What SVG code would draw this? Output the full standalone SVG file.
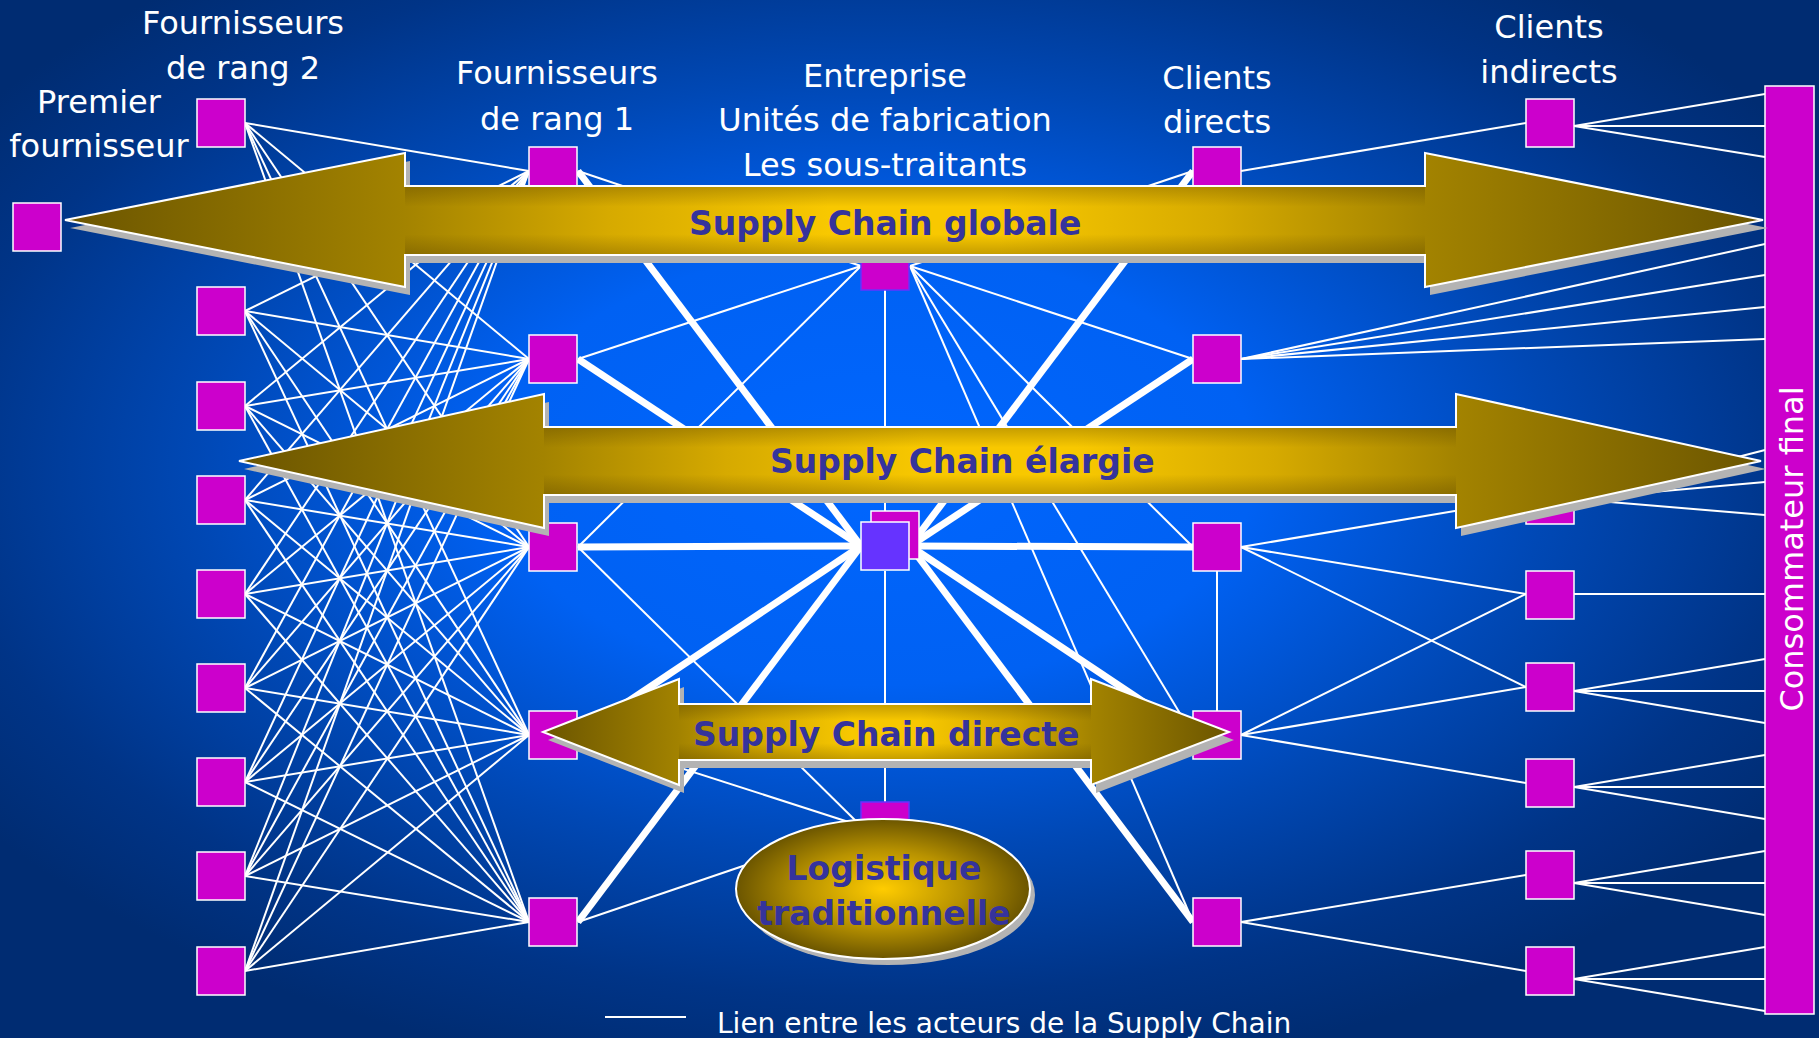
<svg xmlns="http://www.w3.org/2000/svg" width="1819" height="1038" viewBox="0 0 1819 1038">
<defs>
<radialGradient id="bg" cx="0.48" cy="0.45" r="0.6">
<stop offset="0" stop-color="#0066ff"/>
<stop offset="0.35" stop-color="#0061f3"/>
<stop offset="0.62" stop-color="#0048b5"/>
<stop offset="0.85" stop-color="#003487"/>
<stop offset="1" stop-color="#002c72"/>
</radialGradient>
<linearGradient id="goldH" x1="0" y1="0" x2="1" y2="0">
<stop offset="0" stop-color="#6b5500"/>
<stop offset="0.2" stop-color="#a38300"/>
<stop offset="0.32" stop-color="#d6aa00"/>
<stop offset="0.45" stop-color="#f8c800"/>
<stop offset="0.55" stop-color="#f8c800"/>
<stop offset="0.68" stop-color="#d6aa00"/>
<stop offset="0.8" stop-color="#a38300"/>
<stop offset="1" stop-color="#6b5500"/>
</linearGradient>
<linearGradient id="goldV" x1="0" y1="0" x2="0" y2="1">
<stop offset="0" stop-color="#4a3500" stop-opacity="0.3"/>
<stop offset="0.3" stop-color="#4a3500" stop-opacity="0"/>
<stop offset="0.7" stop-color="#4a3500" stop-opacity="0"/>
<stop offset="1" stop-color="#4a3500" stop-opacity="0.3"/>
</linearGradient>
<radialGradient id="goldR" cx="0.5" cy="0.5" r="0.5">
<stop offset="0" stop-color="#ffcc00"/>
<stop offset="0.55" stop-color="#b89200"/>
<stop offset="1" stop-color="#6b5500"/>
</radialGradient>
<style>
.thin{stroke:#fff;stroke-width:2;fill:none}
.thick{stroke:#fff;stroke-width:7;fill:none}
.box{fill:#cc00cc;stroke:#fff;stroke-width:1.5}
.boxb{fill:#cc00cc;stroke:#6633ff;stroke-width:1.5}
.lbl{font-family:"DejaVu Sans",Verdana,sans-serif;font-size:32px;fill:#fff;text-anchor:middle}
.bold{font-family:"DejaVu Sans",Verdana,sans-serif;font-weight:bold;font-size:33px;fill:#35339c}
.arrow{fill:url(#goldH)}
.shade{fill:url(#goldV)}
.edge{fill:none;stroke:#fff;stroke-width:2}
.shadow{fill:#b3b3b3}
</style>
</defs>
<rect width="1819" height="1038" fill="url(#bg)"/>

<g id="connectors">
<g id="rang2-rang1">
<line class="thin" x1="245" y1="123" x2="529" y2="171"/><line class="thin" x1="245" y1="123" x2="529" y2="359"/><line class="thin" x1="245" y1="123" x2="529" y2="547"/><line class="thin" x1="245" y1="123" x2="529" y2="735"/><line class="thin" x1="245" y1="123" x2="529" y2="922"/>
<line class="thin" x1="245" y1="311" x2="529" y2="171"/><line class="thin" x1="245" y1="311" x2="529" y2="359"/><line class="thin" x1="245" y1="311" x2="529" y2="547"/><line class="thin" x1="245" y1="311" x2="529" y2="735"/><line class="thin" x1="245" y1="311" x2="529" y2="922"/>
<line class="thin" x1="245" y1="406" x2="529" y2="171"/><line class="thin" x1="245" y1="406" x2="529" y2="359"/><line class="thin" x1="245" y1="406" x2="529" y2="547"/><line class="thin" x1="245" y1="406" x2="529" y2="735"/><line class="thin" x1="245" y1="406" x2="529" y2="922"/>
<line class="thin" x1="245" y1="500" x2="529" y2="171"/><line class="thin" x1="245" y1="500" x2="529" y2="359"/><line class="thin" x1="245" y1="500" x2="529" y2="547"/><line class="thin" x1="245" y1="500" x2="529" y2="735"/><line class="thin" x1="245" y1="500" x2="529" y2="922"/>
<line class="thin" x1="245" y1="594" x2="529" y2="171"/><line class="thin" x1="245" y1="594" x2="529" y2="359"/><line class="thin" x1="245" y1="594" x2="529" y2="547"/><line class="thin" x1="245" y1="594" x2="529" y2="735"/><line class="thin" x1="245" y1="594" x2="529" y2="922"/>
<line class="thin" x1="245" y1="688" x2="529" y2="171"/><line class="thin" x1="245" y1="688" x2="529" y2="359"/><line class="thin" x1="245" y1="688" x2="529" y2="547"/><line class="thin" x1="245" y1="688" x2="529" y2="735"/><line class="thin" x1="245" y1="688" x2="529" y2="922"/>
<line class="thin" x1="245" y1="782" x2="529" y2="171"/><line class="thin" x1="245" y1="782" x2="529" y2="359"/><line class="thin" x1="245" y1="782" x2="529" y2="547"/><line class="thin" x1="245" y1="782" x2="529" y2="735"/><line class="thin" x1="245" y1="782" x2="529" y2="922"/>
<line class="thin" x1="245" y1="876" x2="529" y2="171"/><line class="thin" x1="245" y1="876" x2="529" y2="359"/><line class="thin" x1="245" y1="876" x2="529" y2="547"/><line class="thin" x1="245" y1="876" x2="529" y2="735"/><line class="thin" x1="245" y1="876" x2="529" y2="922"/>
<line class="thin" x1="245" y1="971" x2="529" y2="171"/><line class="thin" x1="245" y1="971" x2="529" y2="359"/><line class="thin" x1="245" y1="971" x2="529" y2="547"/><line class="thin" x1="245" y1="971" x2="529" y2="735"/><line class="thin" x1="245" y1="971" x2="529" y2="922"/>
</g>
<g id="rang1-entreprise">
<line class="thin" x1="578" y1="171" x2="861" y2="266"/><line class="thin" x1="578" y1="359" x2="861" y2="266"/><line class="thin" x1="578" y1="547" x2="861" y2="266"/>
<line class="thin" x1="578" y1="547" x2="861" y2="826"/><line class="thin" x1="578" y1="735" x2="861" y2="826"/><line class="thin" x1="578" y1="922" x2="861" y2="826"/>
<line class="thick" x1="578" y1="171" x2="861" y2="546"/><line class="thick" x1="578" y1="359" x2="861" y2="546"/><line class="thick" x1="578" y1="547" x2="861" y2="546"/><line class="thick" x1="578" y1="735" x2="861" y2="546"/><line class="thick" x1="578" y1="922" x2="861" y2="546"/>
</g>
<g id="entreprise-directs">
<line class="thin" x1="885" y1="290" x2="885" y2="522"/><line class="thin" x1="885" y1="571" x2="885" y2="802"/>
<line class="thin" x1="910" y1="266" x2="1193" y2="171"/><line class="thin" x1="910" y1="266" x2="1193" y2="359"/><line class="thin" x1="910" y1="266" x2="1193" y2="547"/><line class="thin" x1="910" y1="266" x2="1193" y2="735"/><line class="thin" x1="910" y1="266" x2="1193" y2="922"/>
<line class="thick" x1="910" y1="546" x2="1193" y2="171"/><line class="thick" x1="910" y1="546" x2="1193" y2="359"/><line class="thick" x1="910" y1="546" x2="1193" y2="547"/><line class="thick" x1="910" y1="546" x2="1193" y2="735"/><line class="thick" x1="910" y1="546" x2="1193" y2="922"/>
</g>
<g id="directs-indirects">
<line class="thin" x1="1217" y1="571" x2="1217" y2="711"/>
<line class="thin" x1="1241" y1="171" x2="1526" y2="123"/>
<line class="thin" x1="1241" y1="359" x2="1765" y2="244"/><line class="thin" x1="1241" y1="359" x2="1765" y2="275"/><line class="thin" x1="1241" y1="359" x2="1765" y2="307"/><line class="thin" x1="1241" y1="359" x2="1765" y2="339"/>
<line class="thin" x1="1241" y1="547" x2="1526" y2="499"/><line class="thin" x1="1241" y1="547" x2="1526" y2="594"/><line class="thin" x1="1241" y1="547" x2="1526" y2="687"/>
<line class="thin" x1="1241" y1="735" x2="1526" y2="594"/><line class="thin" x1="1241" y1="735" x2="1526" y2="687"/><line class="thin" x1="1241" y1="735" x2="1526" y2="783"/>
<line class="thin" x1="1241" y1="922" x2="1526" y2="875"/><line class="thin" x1="1241" y1="922" x2="1526" y2="971"/>
</g>
<g id="indirects-consommateur">
<line class="thin" x1="1574" y1="126" x2="1765" y2="94"/><line class="thin" x1="1574" y1="126" x2="1765" y2="126"/><line class="thin" x1="1574" y1="126" x2="1765" y2="157"/>
<line class="thin" x1="1574" y1="499" x2="1765" y2="450"/><line class="thin" x1="1574" y1="499" x2="1765" y2="482"/><line class="thin" x1="1574" y1="499" x2="1765" y2="515"/>
<line class="thin" x1="1574" y1="594" x2="1765" y2="594"/>
<line class="thin" x1="1574" y1="691" x2="1765" y2="659"/><line class="thin" x1="1574" y1="691" x2="1765" y2="691"/><line class="thin" x1="1574" y1="691" x2="1765" y2="723"/>
<line class="thin" x1="1574" y1="787" x2="1765" y2="755"/><line class="thin" x1="1574" y1="787" x2="1765" y2="787"/><line class="thin" x1="1574" y1="787" x2="1765" y2="819"/>
<line class="thin" x1="1574" y1="883" x2="1765" y2="851"/><line class="thin" x1="1574" y1="883" x2="1765" y2="883"/><line class="thin" x1="1574" y1="883" x2="1765" y2="915"/>
<line class="thin" x1="1574" y1="979" x2="1765" y2="947"/><line class="thin" x1="1574" y1="979" x2="1765" y2="979"/><line class="thin" x1="1574" y1="979" x2="1765" y2="1011"/>
</g>
</g>

<g id="premier-fournisseur"><rect class="box" x="13" y="203" width="48" height="48"/></g>
<g id="rang2">
<rect class="box" x="197" y="99" width="48" height="48"/>
<rect class="box" x="197" y="287" width="48" height="48"/>
<rect class="box" x="197" y="382" width="48" height="48"/>
<rect class="box" x="197" y="476" width="48" height="48"/>
<rect class="box" x="197" y="570" width="48" height="48"/>
<rect class="box" x="197" y="664" width="48" height="48"/>
<rect class="box" x="197" y="758" width="48" height="48"/>
<rect class="box" x="197" y="852" width="48" height="48"/>
<rect class="box" x="197" y="947" width="48" height="48"/>
</g>
<g id="rang1">
<rect class="box" x="529" y="147" width="48" height="48"/>
<rect class="box" x="529" y="335" width="48" height="48"/>
<rect class="box" x="529" y="523" width="48" height="48"/>
<rect class="box" x="529" y="711" width="48" height="48"/>
<rect class="box" x="529" y="898" width="48" height="48"/>
</g>
<g id="entreprise">
<rect class="boxb" x="861" y="242" width="48" height="48"/>
<rect class="box" x="871" y="511" width="48" height="48" stroke="none"/>
<rect x="861" y="522" width="48" height="48" fill="#6633ff" stroke="#fff" stroke-width="1.5"/>
<rect class="boxb" x="861" y="802" width="48" height="48"/>
</g>
<g id="clients-directs">
<rect class="box" x="1193" y="147" width="48" height="48"/>
<rect class="box" x="1193" y="335" width="48" height="48"/>
<rect class="box" x="1193" y="523" width="48" height="48"/>
<rect class="box" x="1193" y="711" width="48" height="48"/>
<rect class="box" x="1193" y="898" width="48" height="48"/>
</g>
<g id="clients-indirects">
<rect class="box" x="1526" y="99" width="48" height="48"/>
<rect class="box" x="1526" y="476" width="48" height="48"/>
<rect class="box" x="1526" y="571" width="48" height="48"/>
<rect class="box" x="1526" y="663" width="48" height="48"/>
<rect class="box" x="1526" y="759" width="48" height="48"/>
<rect class="box" x="1526" y="851" width="48" height="48"/>
<rect class="box" x="1526" y="947" width="48" height="48"/>
</g>
<g id="consommateur-final">
<rect class="box" x="1765" y="86" width="49" height="928"/>
<text class="lbl" transform="translate(1803,549) rotate(-90)">Consommateur final</text>
</g>

<g id="supply-chain-globale">
<path class="shadow" transform="translate(5,8)" d="M65 220L405 153L405 186L1425 186L1425 153L1763 220L1425 287L1425 255L405 255L405 287Z"/>
<path class="arrow" d="M65 220L405 153L405 186L1425 186L1425 153L1763 220L1425 287L1425 255L405 255L405 287Z"/>
<rect class="shade" x="405" y="186" width="1020" height="69"/>
<path class="edge" d="M65 220L405 153L405 186L1425 186L1425 153L1763 220L1425 287L1425 255L405 255L405 287Z"/>
<text class="bold" x="689" y="235">Supply Chain globale</text>
</g>
<g id="supply-chain-elargie">
<path class="shadow" transform="translate(5,8)" d="M239 461L544 394L544 427L1456 427L1456 394L1761 461L1456 528L1456 495L544 495L544 528Z"/>
<path class="arrow" d="M239 461L544 394L544 427L1456 427L1456 394L1761 461L1456 528L1456 495L544 495L544 528Z"/>
<rect class="shade" x="544" y="427" width="912" height="68"/>
<path class="edge" d="M239 461L544 394L544 427L1456 427L1456 394L1761 461L1456 528L1456 495L544 495L544 528Z"/>
<text class="bold" x="770" y="473">Supply Chain élargie</text>
</g>
<g id="supply-chain-directe">
<path class="shadow" transform="translate(5,8)" d="M543 732L679 679L679 704L1091 704L1091 679L1229 732L1091 785L1091 760L679 760L679 785Z"/>
<path class="arrow" d="M543 732L679 679L679 704L1091 704L1091 679L1229 732L1091 785L1091 760L679 760L679 785Z"/>
<rect class="shade" x="679" y="704" width="412" height="56"/>
<path class="edge" d="M543 732L679 679L679 704L1091 704L1091 679L1229 732L1091 785L1091 760L679 760L679 785Z"/>
<text class="bold" x="693" y="746">Supply Chain directe</text>
</g>
<g id="logistique-traditionnelle">
<ellipse cx="888" cy="895" rx="147" ry="70" fill="#b3b3b3"/>
<ellipse cx="883" cy="889" rx="147" ry="70" fill="url(#goldR)" stroke="#fff" stroke-width="2"/>
<text class="bold" x="884" y="880" text-anchor="middle">Logistique</text>
<text class="bold" x="884" y="925" text-anchor="middle">traditionnelle</text>
</g>

<g id="labels">
<text class="lbl" x="243" y="34">Fournisseurs</text>
<text class="lbl" x="243" y="79">de rang 2</text>
<text class="lbl" x="99" y="113">Premier</text>
<text class="lbl" x="99" y="157">fournisseur</text>
<text class="lbl" x="557" y="84">Fournisseurs</text>
<text class="lbl" x="557" y="130">de rang 1</text>
<text class="lbl" x="885" y="87">Entreprise</text>
<text class="lbl" x="885" y="131">Unités de fabrication</text>
<text class="lbl" x="885" y="176">Les sous-traitants</text>
<text class="lbl" x="1217" y="89">Clients</text>
<text class="lbl" x="1217" y="133">directs</text>
<text class="lbl" x="1549" y="38">Clients</text>
<text class="lbl" x="1549" y="83">indirects</text>
</g>
<g id="legend">
<line class="thin" x1="605" y1="1017" x2="686" y2="1017"/>
<text x="717" y="1033" font-family="DejaVu Sans, Verdana, sans-serif" font-size="28" fill="#fff">Lien entre les acteurs de la Supply Chain</text>
</g>
</svg>
